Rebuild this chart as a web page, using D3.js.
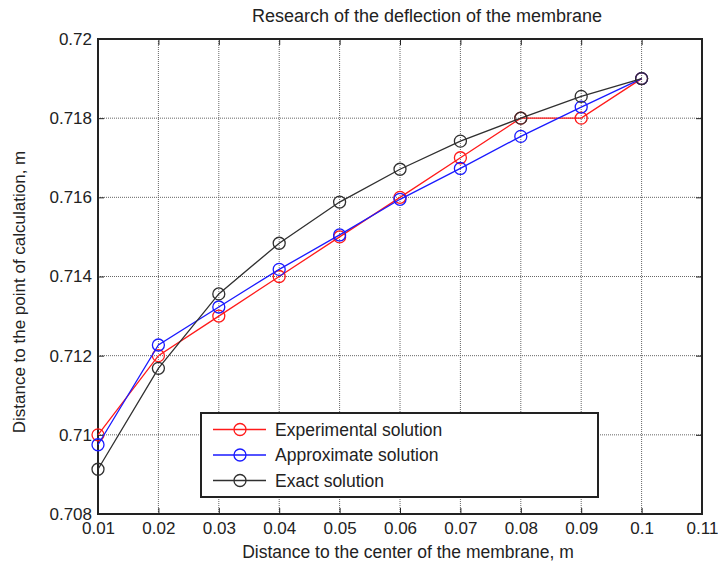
<!DOCTYPE html>
<meta charset="utf-8">
<script src="https://d3js.org/d3.v7.min.js"></script>
<style>
body { margin: 0; background: #fff; }
text { font-family: "Liberation Sans", Arial, sans-serif; fill: #222; }
</style>
<div id="chart"></div>
<script>
// data
var xs = [0.01, 0.02, 0.03, 0.04, 0.05, 0.06, 0.07, 0.08, 0.09, 0.1];
var experimental = [0.7100, 0.7120, 0.7130, 0.7140, 0.7150, 0.7160, 0.7170, 0.7180, 0.7180, 0.7190];
var approximate  = [0.70975, 0.71227, 0.71323, 0.71418, 0.71505, 0.71595, 0.71673, 0.71754, 0.71828, 0.7190];
var exact        = [0.70913, 0.71168, 0.71356, 0.71484, 0.71588, 0.71671, 0.71742, 0.7180, 0.71855, 0.7190];
var xTicks = [0.01, 0.02, 0.03, 0.04, 0.05, 0.06, 0.07, 0.08, 0.09, 0.1, 0.11];
var yTicks = [0.708, 0.71, 0.712, 0.714, 0.716, 0.718, 0.72];
var seriesNames = ["Experimental solution", "Approximate solution", "Exact solution"];
var seriesColors = ["#ff1a1a", "#1a1aff", "#303030"];

var W = 718, H = 562;
var margin = {top: 39, right: 16, bottom: 48, left: 98};
var width = W - margin.left - margin.right,
    height = H - margin.top - margin.bottom;

var svg = d3.select("#chart").append("svg")
    .attr("width", W).attr("height", H);
var g = svg.append("g")
    .attr("transform", "translate(" + margin.left + "," + margin.top + ")");

var x = d3.scaleLinear().domain([0.01, 0.11]).range([0, width]);
var y = d3.scaleLinear().domain([0.708, 0.72]).range([height, 0]);

// grid
g.append("g").selectAll("line").data(xTicks.slice(1, -1)).enter().append("line")
    .attr("x1", function(d) { return x(d); }).attr("x2", function(d) { return x(d); })
    .attr("y1", 0).attr("y2", height)
    .attr("stroke", "#666").attr("stroke-width", 1).attr("stroke-dasharray", "1,1");
g.append("g").selectAll("line").data(yTicks.slice(1, -1)).enter().append("line")
    .attr("y1", function(d) { return y(d); }).attr("y2", function(d) { return y(d); })
    .attr("x1", 0).attr("x2", width)
    .attr("stroke", "#666").attr("stroke-width", 1).attr("stroke-dasharray", "1,1");

// axes, ticks inside on all four sides
var fmt = function(d) { return d3.format("~g")(+d.toFixed(3)); };

var xb = g.append("g").attr("transform", "translate(0," + height + ")")
    .call(d3.axisBottom(x).tickValues(xTicks).tickFormat(fmt).tickSizeInner(-6).tickSizeOuter(0).tickPadding(8));
var xt = g.append("g")
    .call(d3.axisTop(x).tickValues(xTicks).tickFormat("").tickSizeInner(-6).tickSizeOuter(0));
var yl = g.append("g")
    .call(d3.axisLeft(y).tickValues(yTicks).tickFormat(fmt).tickSizeInner(-6).tickSizeOuter(0).tickPadding(6));
var yr = g.append("g").attr("transform", "translate(" + width + ",0)")
    .call(d3.axisRight(y).tickValues(yTicks).tickFormat("").tickSizeInner(-6).tickSizeOuter(0));

[xb, xt, yl, yr].forEach(function(a) {
  a.select(".domain").remove();
  a.selectAll(".tick line").attr("stroke", "#222");
  a.selectAll("text").style("font-size", "17px").attr("fill", "#222");
});
xb.selectAll("text").attr("dy", "0.71em");

g.append("rect").attr("width", width).attr("height", height)
    .attr("fill", "none").attr("stroke", "#222").attr("stroke-width", 2);

// series
var series = [experimental, approximate, exact];
var line = d3.line()
    .x(function(d, i) { return x(xs[i]); })
    .y(function(d) { return y(d); });

series.forEach(function(s, k) {
  g.append("path").datum(s)
    .attr("d", line).attr("fill", "none")
    .attr("stroke", seriesColors[k]).attr("stroke-width", 1.3);
  g.append("g").selectAll("circle").data(s).enter().append("circle")
    .attr("cx", function(d, i) { return x(xs[i]); })
    .attr("cy", function(d) { return y(d); })
    .attr("r", 6)
    .attr("fill", "none").attr("stroke", seriesColors[k]).attr("stroke-width", 1.3);
});

// legend
var lg = svg.append("g").attr("transform", "translate(201,413)");
lg.append("rect").attr("width", 397).attr("height", 84)
    .attr("fill", "#fff").attr("stroke", "#222").attr("stroke-width", 2);
seriesNames.forEach(function(name, k) {
  var yy = 16.5 + k * 25.5;
  lg.append("line").attr("x1", 12).attr("x2", 65).attr("y1", yy).attr("y2", yy)
    .attr("stroke", seriesColors[k]).attr("stroke-width", 1.3);
  lg.append("circle").attr("cx", 39).attr("cy", yy).attr("r", 6)
    .attr("fill", "none").attr("stroke", seriesColors[k]).attr("stroke-width", 1.3);
  lg.append("text").attr("x", 74).attr("y", yy).attr("dy", "0.35em")
    .style("font-size", "17.5px").text(name);
});

// titles
svg.append("text").attr("x", 427).attr("y", 22)
    .attr("text-anchor", "middle").style("font-size", "18px")
    .text("Research of the deflection of the membrane");
svg.append("text").attr("x", 408).attr("y", 558)
    .attr("text-anchor", "middle").style("font-size", "17.5px")
    .text("Distance to the center of the membrane, m");
svg.append("text")
    .attr("transform", "translate(25,292) rotate(-90)")
    .attr("text-anchor", "middle").style("font-size", "17px")
    .text("Distance to the point of calculation,  m");
</script>
